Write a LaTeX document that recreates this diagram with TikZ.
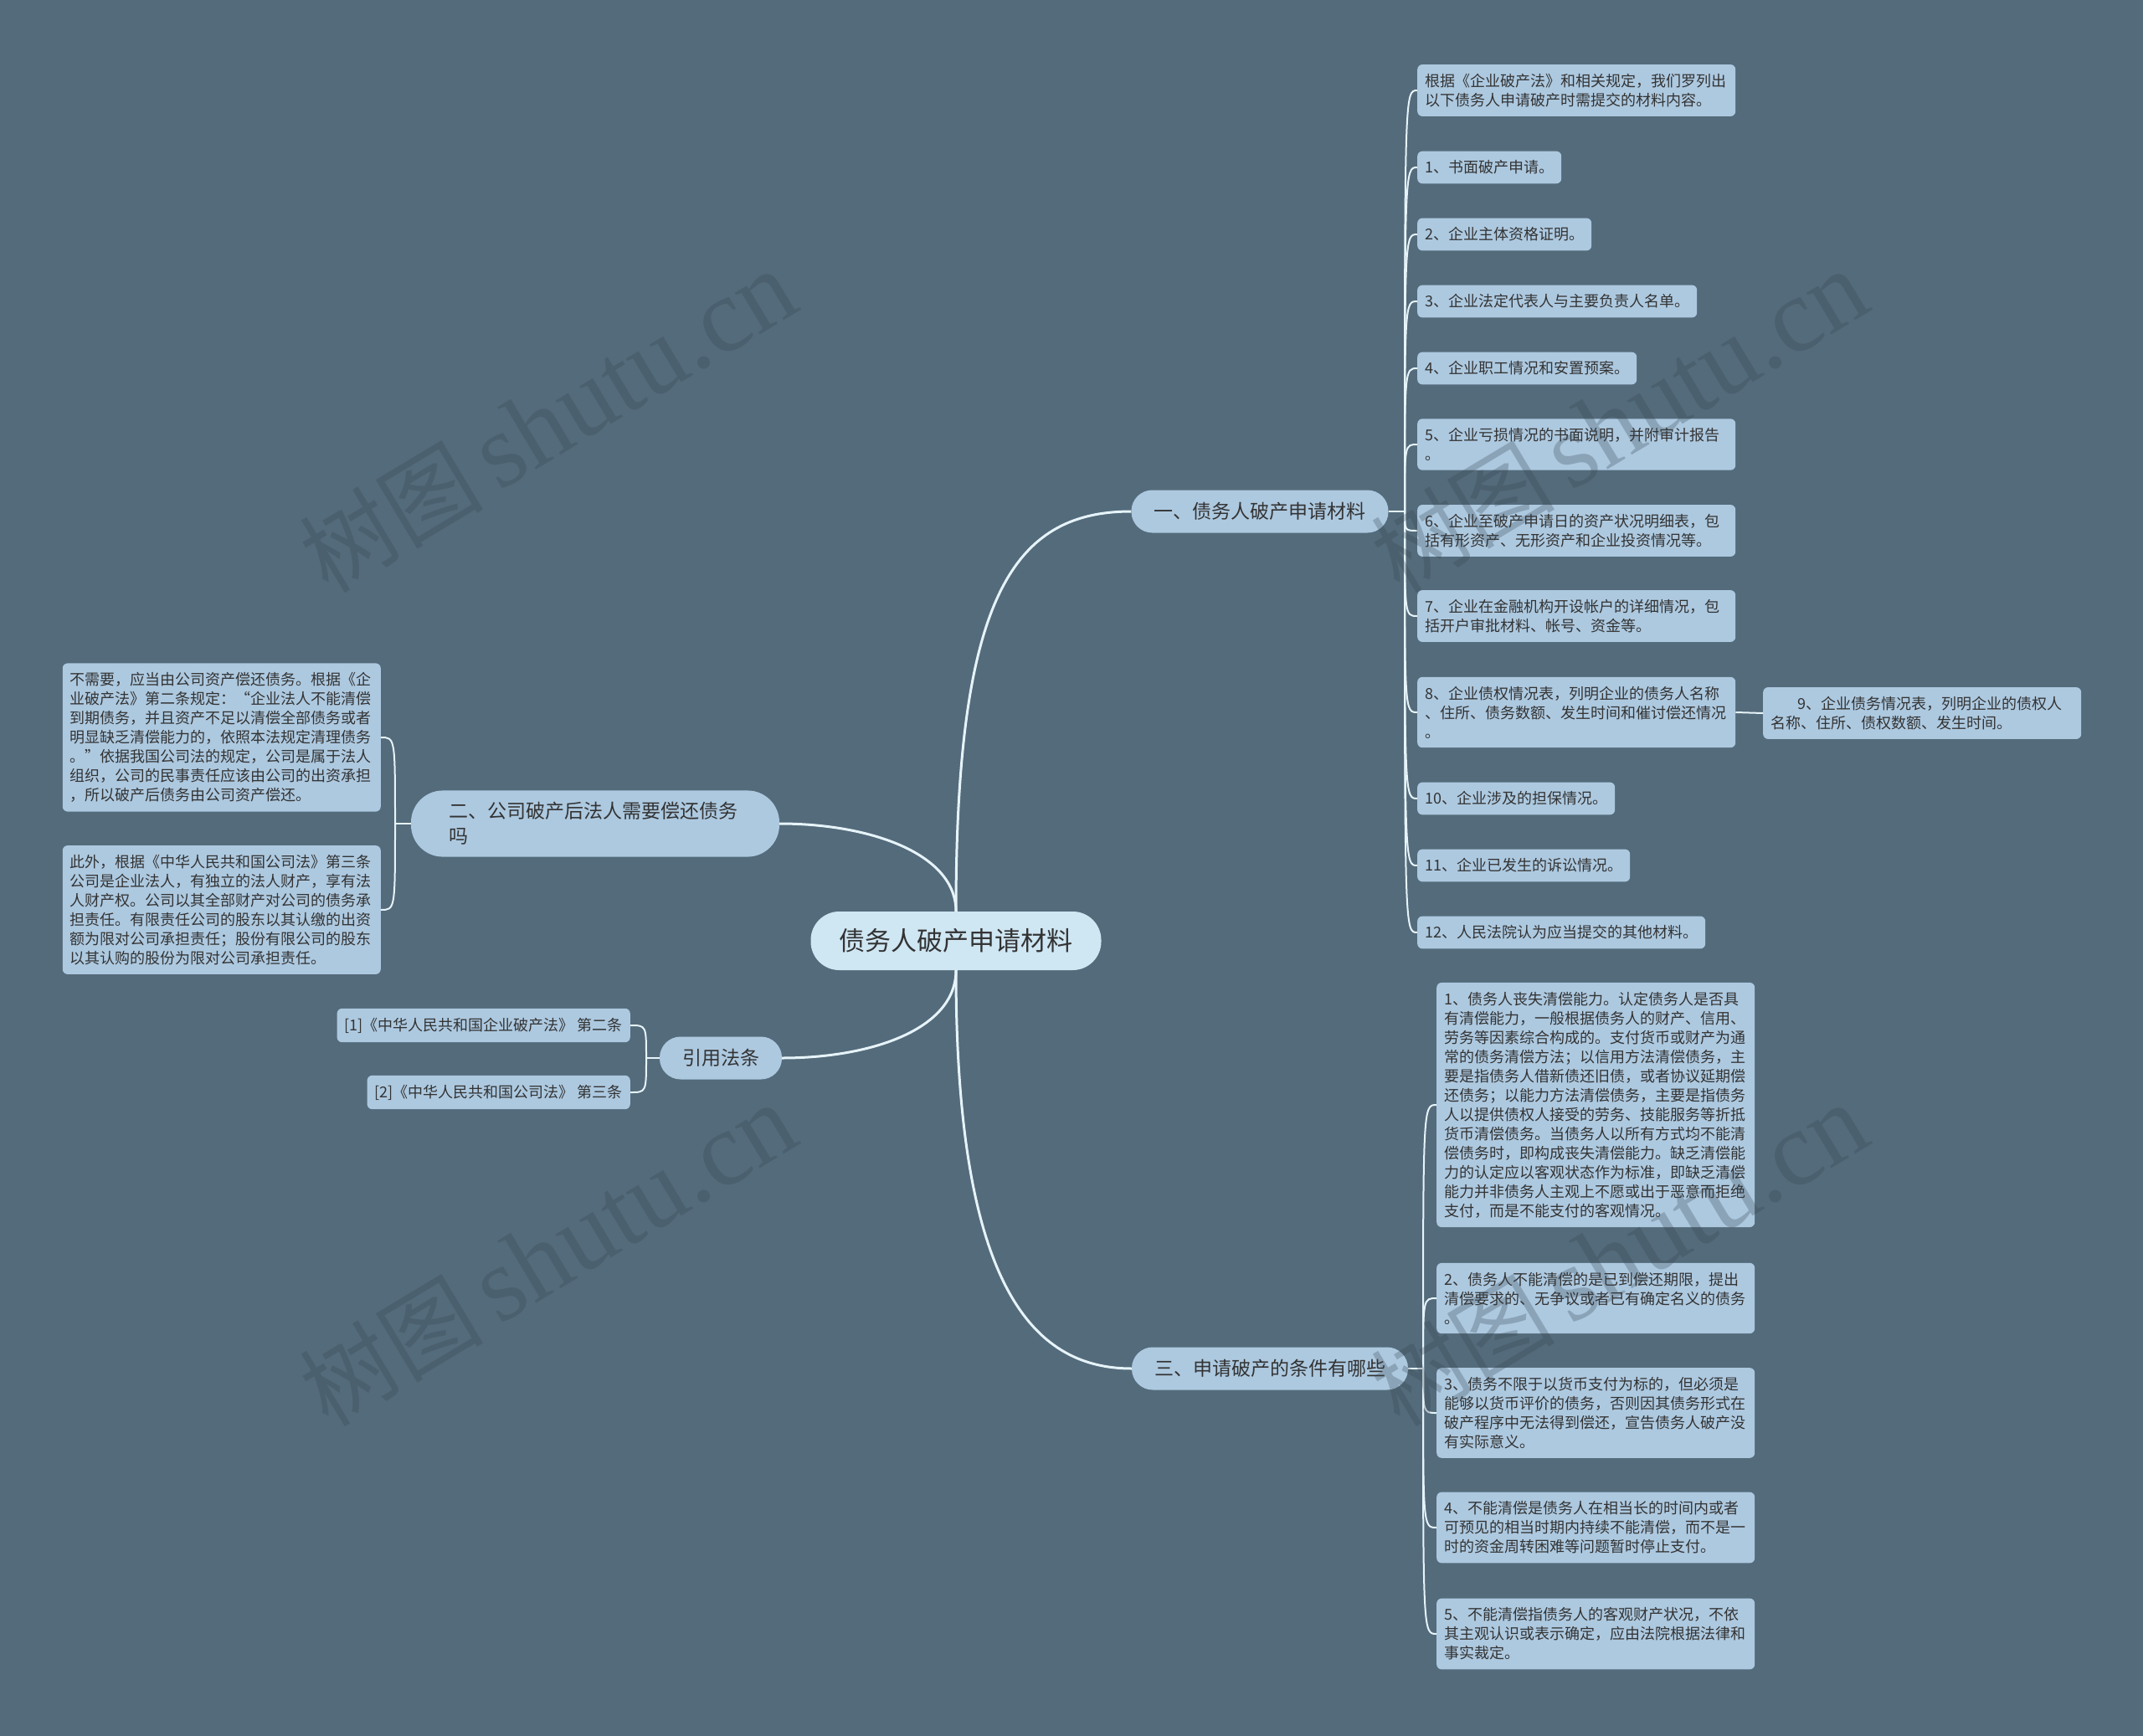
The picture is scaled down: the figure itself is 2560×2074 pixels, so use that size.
\documentclass[tikz,border=0pt]{standalone}
\usepackage{fontspec}
\setmainfont{Noto Sans CJK SC}
\newfontfamily\wmlatin{Liberation Serif}
\definecolor{bgc}{HTML}{546B7B}
\definecolor{leafc}{HTML}{ADC9E0}
\definecolor{rootc}{HTML}{CFE6F3}
\definecolor{linec}{HTML}{E6F4FA}
\definecolor{txtc}{HTML}{333333}
\definecolor{wmc}{HTML}{36444F}
\newcommand{\wmtext}{{\fontsize{110pt}{120pt}\selectfont 树图}\hspace{18pt}{\wmlatin\fontsize{126pt}{132pt}\selectfont shutu.cn}}
\tikzset{
  leaf/.style={fill=leafc, rounded corners=6pt, inner xsep=9pt, inner ysep=11pt, text=txtc,
    font=\fontsize{18pt}{23pt}\selectfont, align=left},
  leafw/.style={leaf, text width=362pt},
  branch/.style={fill=leafc, rounded corners=25pt, inner xsep=27pt, inner ysep=14pt, text=txtc,
    font=\fontsize{23pt}{30pt}\selectfont, align=left, minimum height=51pt},
  rootn/.style={fill=rootc, rounded corners=34pt, minimum height=70pt, inner xsep=34pt, text=txtc,
    font=\fontsize{31pt}{36pt}\selectfont},
  mainln/.style={draw=linec, line width=3pt},
  subln/.style={draw=linec, line width=2pt},
  wm/.style={text=wmc, text opacity=0.28, rotate=31, inner sep=0pt}
}
\begin{document}
\begin{tikzpicture}[x=1pt,y=-1pt]
\fill[bgc] (0,0) rectangle (2560,2074);
\useasboundingbox (0,0) rectangle (2560,2074);

% root and branches
\node[rootn] (c) at (1142,1124) {债务人破产申请材料};
\node[branch] (b1) at (1505,611) {一、债务人破产申请材料};
\node[branch, text width=350pt, inner xsep=45pt, rounded corners=38pt] (b2) at (711,984) {二、公司破产后法人需要偿还债务\\吗};
\node[branch] (br) at (861,1264) {引用法条};
\node[branch] (b3) at (1517,1635) {三、申请破产的条件有哪些};

% branch 1 leaves
\node[leafw, anchor=west] (l0) at (1693,108) {根据《企业破产法》和相关规定，我们罗列出\\以下债务人申请破产时需提交的材料内容。};
\node[leaf, anchor=west] (l1) at (1693,200) {1、书面破产申请。};
\node[leaf, anchor=west] (l2) at (1693,280) {2、企业主体资格证明。};
\node[leaf, anchor=west] (l3) at (1693,360) {3、企业法定代表人与主要负责人名单。};
\node[leaf, anchor=west] (l4) at (1693,440) {4、企业职工情况和安置预案。};
\node[leafw, anchor=west] (l5) at (1693,531) {5、企业亏损情况的书面说明，并附审计报告\\。};
\node[leafw, anchor=west] (l6) at (1693,634) {6、企业至破产申请日的资产状况明细表，包\\括有形资产、无形资产和企业投资情况等。};
\node[leafw, anchor=west] (l7) at (1693,736) {7、企业在金融机构开设帐户的详细情况，包\\括开户审批材料、帐号、资金等。};
\node[leafw, anchor=west] (l8) at (1693,851) {8、企业债权情况表，列明企业的债务人名称\\、住所、债务数额、发生时间和催讨偿还情况\\。};
\node[leafw, anchor=west] (l9) at (2106,852) {\hspace*{32pt}9、企业债务情况表，列明企业的债权人\\名称、住所、债权数额、发生时间。};
\node[leaf, anchor=west] (l10) at (1693,954) {10、企业涉及的担保情况。};
\node[leaf, anchor=west] (l11) at (1693,1034) {11、企业已发生的诉讼情况。};
\node[leaf, anchor=west] (l12) at (1693,1114) {12、人民法院认为应当提交的其他材料。};

% branch 3 leaves
\node[leafw, anchor=west] (m1) at (1716,1320) {1、债务人丧失清偿能力。认定债务人是否具\\有清偿能力，一般根据债务人的财产、信用、\\劳务等因素综合构成的。支付货币或财产为通\\常的债务清偿方法；以信用方法清偿债务，主\\要是指债务人借新债还旧债，或者协议延期偿\\还债务；以能力方法清偿债务，主要是指债务\\人以提供债权人接受的劳务、技能服务等折抵\\货币清偿债务。当债务人以所有方式均不能清\\偿债务时，即构成丧失清偿能力。缺乏清偿能\\力的认定应以客观状态作为标准，即缺乏清偿\\能力并非债务人主观上不愿或出于恶意而拒绝\\支付，而是不能支付的客观情况。};
\node[leafw, anchor=west] (m2) at (1716,1551) {2、债务人不能清偿的是已到偿还期限，提出\\清偿要求的、无争议或者已有确定名义的债务\\。};
\node[leafw, anchor=west] (m3) at (1716,1688) {3、债务不限于以货币支付为标的，但必须是\\能够以货币评价的债务，否则因其债务形式在\\破产程序中无法得到偿还，宣告债务人破产没\\有实际意义。};
\node[leafw, anchor=west] (m4) at (1716,1825) {4、不能清偿是债务人在相当长的时间内或者\\可预见的相当时期内持续不能清偿，而不是一\\时的资金周转困难等问题暂时停止支付。};
\node[leafw, anchor=west] (m5) at (1716,1952) {5、不能清偿指债务人的客观财产状况，不依\\其主观认识或表示确定，应由法院根据法律和\\事实裁定。};

% branch 2 leaves
\node[leafw, anchor=east] (n1) at (455,881) {不需要，应当由公司资产偿还债务。根据《企\\业破产法》第二条规定：“企业法人不能清偿\\到期债务，并且资产不足以清偿全部债务或者\\明显缺乏清偿能力的，依照本法规定清理债务\\。”依据我国公司法的规定，公司是属于法人\\组织，公司的民事责任应该由公司的出资承担\\，所以破产后债务由公司资产偿还。};
\node[leafw, anchor=east] (n2) at (455,1087) {此外，根据《中华人民共和国公司法》第三条\\公司是企业法人，有独立的法人财产，享有法\\人财产权。公司以其全部财产对公司的债务承\\担责任。有限责任公司的股东以其认缴的出资\\额为限对公司承担责任；股份有限公司的股东\\以其认购的股份为限对公司承担责任。};

% reference leaves
\node[leaf, anchor=east] (r1) at (753,1225) {[1]《中华人民共和国企业破产法》 第二条};
\node[leaf, anchor=east] (r2) at (753,1305) {[2]《中华人民共和国公司法》 第三条};

% junction points
\coordinate (j1) at (1678,611);
\coordinate (j3) at (1700,1635);
\coordinate (j2) at (472,984);
\coordinate (jr) at (772,1264);

% main connectors
\draw[mainln] (c.north) .. controls (1142,718) and (1208,611) .. (b1.west);
\draw[mainln] (c.north) .. controls (1142,1020) and (1040,984) .. (b2.east);
\draw[mainln] (c.south) .. controls (1142,1530) and (1230,1635) .. (b3.west);
\draw[mainln] (c.south) .. controls (1142,1230) and (1040,1264) .. (br.east);

% branch 1 connectors
\draw[subln] (b1.east) -- (j1);
\foreach \n in {l0,l1,l2,l3,l4,l5,l6,l7,l8,l10,l11,l12}{
  \draw[subln] (j1) .. controls (j1 |- \n.west) .. (\n.west);
}
\draw[subln] (l8.east) -- (l9.west);

% branch 3 connectors
\draw[subln] (b3.east) -- (j3);
\foreach \n in {m1,m2,m3,m4,m5}{
  \draw[subln] (j3) .. controls (j3 |- \n.west) .. (\n.west);
}

% branch 2 connectors
\draw[subln] (b2.west) -- (j2);
\foreach \n in {n1,n2}{
  \draw[subln] (j2) .. controls (j2 |- \n.east) .. (\n.east);
}

% reference connectors
\draw[subln] (br.west) -- (jr);
\foreach \n in {r1,r2}{
  \draw[subln] (jr) .. controls (jr |- \n.east) .. (\n.east);
}

% watermarks
\node[wm] (w1) at (654,504) {\wmtext};
\node[wm] (w2) at (1934,504) {\wmtext};
\node[wm] (w3) at (654,1500) {\wmtext};
\node[wm] (w4) at (1934,1500) {\wmtext};
\end{tikzpicture}
\end{document}
